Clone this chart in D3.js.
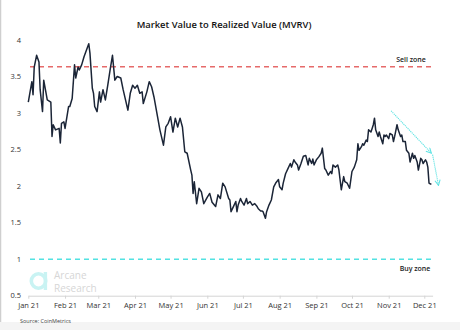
<!DOCTYPE html>
<html>
<head>
<meta charset="utf-8">
<script src="https://cdn.jsdelivr.net/npm/d3@7"></script>
<style>
  body { margin: 0; background: #fff; }
  svg { display: block; font-family: "Open Sans", "Noto Sans", sans-serif; }
</style>
</head>
<body>
<div id="chart"></div>
<script>
var startDate = new Date(2021, 0, 1);

// day of year (from Jan 1 2021) and MVRV value
var days = [0,3,4,5,7,9,10,12,13,16,19,20,21,23,26,27,28,30,31,34,35,37,39,40,42,43,45,47,49,51,52,54,55,56,58,60,61,63,65,67,69,71,73,75,78,80,82,84,86,88,90,92,94,96,97,100,102,104,106,109,111,114,116,118,120,122,124,126,128,130,132,134,137,138,139,140,142,144,146,148,151,153,155,158,160,162,164,166,169,170,171,173,175,176,177,179,180,182,184,185,187,189,191,193,194,196,197,198,200,201,203,205,207,209,211,212,214,215,217,219,221,222,224,225,227,228,230,232,234,236,237,239,240,241,243,245,247,248,250,251,253,255,256,257,259,261,262,264,266,267,269,271,273,275,277,278,279,281,282,283,285,286,287,289,290,291,292,293,295,296,297,299,300,301,302,304,305,307,308,309,311,312,314,315,316,318,319,321,322,324,325,326,328,329,331,332,333,335,336,337,338,339,340];
var mvrv = [3.15,3.43,3.25,3.63,3.79,3.70,3.32,3.02,3.45,3.18,3.15,2.68,2.84,2.77,2.79,2.59,2.86,2.88,2.79,3.09,3.09,3.20,3.66,3.48,3.63,3.59,3.66,3.77,3.86,3.95,3.82,3.34,3.27,3.09,3.02,3.29,3.15,3.32,3.18,3.38,3.59,3.79,3.45,3.50,3.48,3.32,3.18,3.04,3.27,3.38,3.34,3.38,3.27,3.29,3.13,3.29,3.43,3.36,3.22,2.95,2.77,2.56,2.81,2.86,2.95,2.74,2.93,2.81,2.93,2.81,2.47,2.45,2.22,2.15,1.90,2.06,1.76,1.97,1.92,1.76,1.85,1.90,1.78,1.72,1.88,1.83,2.04,1.99,1.83,1.81,1.65,1.72,1.79,1.65,1.74,1.83,1.79,1.74,1.83,1.76,1.79,1.74,1.76,1.72,1.69,1.66,1.66,1.65,1.56,1.65,1.74,1.81,1.99,2.05,2.09,1.99,1.95,2.04,2.17,2.24,2.31,2.26,2.36,2.33,2.29,2.22,2.31,2.41,2.42,2.29,2.38,2.31,2.37,2.29,2.36,2.40,2.45,2.52,2.24,2.22,2.15,2.20,2.17,2.29,2.26,2.29,2.22,1.95,2.13,2.06,2.04,1.97,2.20,2.26,2.36,2.58,2.49,2.54,2.58,2.56,2.63,2.61,2.77,2.74,2.79,2.84,2.93,2.77,2.68,2.74,2.68,2.58,2.70,2.68,2.70,2.65,2.72,2.70,2.61,2.68,2.84,2.77,2.68,2.70,2.61,2.61,2.49,2.45,2.33,2.45,2.38,2.42,2.33,2.22,2.38,2.36,2.31,2.36,2.33,2.26,2.04,2.03,2.03];

var yTicks = [0.5, 1, 1.5, 2, 2.5, 3, 3.5, 4];
var sellZone = 3.635;
var buyZone = 1;
var lastDay = 341;

// trend arrows: [startDay, startValue, endDay, endValue]
var arrows = [[306, 3.03, 340, 2.45], [341, 2.43, 346, 2.01]];

var width = 460, height = 330;

var svg = d3.select("#chart").append("svg")
  .attr("width", width)
  .attr("height", height);

// page frame bits
svg.append("rect").attr("x", 0).attr("y", 322).attr("width", width).attr("height", 8).attr("fill", "#f4f4f4");
svg.append("line").attr("x1", 0.5).attr("x2", 0.5).attr("y1", 0).attr("y2", 322)
  .attr("stroke", "#cfcfcf").attr("stroke-width", 1.5);

var x = d3.scaleTime()
  .domain([startDate, d3.timeDay.offset(startDate, lastDay)])
  .range([28.3, 28.3 + lastDay * 1.1856]);

var y = d3.scaleLinear()
  .domain([0.5, 4])
  .range([295.7, 40]);

var data = days.map(function(d, i) {
  return {date: d3.timeDay.offset(startDate, d), value: mvrv[i]};
});

svg.append("text")
  .attr("x", 224)
  .attr("y", 27.5)
  .attr("text-anchor", "middle")
  .style("font-size", "9.4px")
  .style("font-weight", "600")
  .attr("fill", "#111")
  .text("Market Value to Realized Value (MVRV)");

// logo watermark
var logo = svg.append("g").attr("transform", "translate(38.5,281)");
logo.append("circle").attr("r", 7.2).attr("fill", "none").attr("stroke", "#c9f3f3").attr("stroke-width", 3.6);
logo.append("rect").attr("x", 5.2).attr("y", -9).attr("width", 3.4).attr("height", 18).attr("fill", "#c9f3f3");
svg.append("text").attr("x", 54).attr("y", 279).attr("fill", "#d6d6d6")
  .style("font-size", "10px").text("Arcane");
svg.append("text").attr("x", 54).attr("y", 292).attr("fill", "#d6d6d6")
  .style("font-size", "10px").text("Research");

// y labels
svg.append("g").selectAll("text")
  .data(yTicks)
  .enter().append("text")
  .attr("x", 21)
  .attr("y", function(d) { return y(d); })
  .attr("dy", "0.35em")
  .attr("text-anchor", "end")
  .attr("fill", "#333")
  .style("font-size", "7.5px")
  .text(function(d) { return d; });

// x axis
var xAxis = d3.axisBottom(x)
  .ticks(d3.timeMonth.every(1))
  .tickFormat(d3.timeFormat("%b %y"))
  .tickSize(3)
  .tickSizeOuter(0);

var gx = svg.append("g")
  .attr("transform", "translate(0," + y(0.5) + ")")
  .call(xAxis);
gx.select(".domain").attr("stroke", "#d4d4d4");
gx.selectAll(".tick line").attr("stroke", "#d4d4d4");
gx.selectAll(".tick text")
  .attr("fill", "#333")
  .attr("y", 7)
  .style("font-size", "7.5px")
  .style("font-family", "\"Open Sans\", sans-serif");

// zone lines
svg.append("line")
  .attr("x1", 30).attr("x2", 431)
  .attr("y1", y(sellZone)).attr("y2", y(sellZone))
  .attr("stroke", "#e66a6a")
  .attr("stroke-width", 1.5)
  .attr("stroke-dasharray", "5,4");

svg.append("line")
  .attr("x1", 30).attr("x2", 432)
  .attr("y1", y(buyZone)).attr("y2", y(buyZone))
  .attr("stroke", "#52e2e2")
  .attr("stroke-width", 1.5)
  .attr("stroke-dasharray", "5,4");

svg.append("text").attr("x", 411).attr("y", y(sellZone) - 5)
  .attr("text-anchor", "middle").attr("fill", "#222")
  .style("font-size", "7px").style("font-weight", "600")
  .text("Sell zone");
svg.append("text").attr("x", 415).attr("y", y(buyZone) + 12)
  .attr("text-anchor", "middle").attr("fill", "#222")
  .style("font-size", "7px").style("font-weight", "600")
  .text("Buy zone");

// the MVRV line
var line = d3.line()
  .x(function(d) { return x(d.date); })
  .y(function(d) { return y(d.value); });

svg.append("path")
  .datum(data)
  .attr("fill", "none")
  .attr("stroke", "#1b2537")
  .attr("stroke-width", 1.5)
  .attr("stroke-linejoin", "round")
  .attr("d", line);

// arrows
svg.append("defs").append("marker")
  .attr("id", "head")
  .attr("viewBox", "0 0 10 10")
  .attr("refX", 9).attr("refY", 5)
  .attr("markerWidth", 6).attr("markerHeight", 6)
  .attr("orient", "auto")
  .append("path")
  .attr("d", "M1,1 L9,5 L1,9")
  .attr("fill", "none")
  .attr("stroke", "#5fe3e3")
  .attr("stroke-width", 1.6);

arrows.forEach(function(a) {
  svg.append("line")
    .attr("x1", x(d3.timeDay.offset(startDate, a[0]))).attr("y1", y(a[1]))
    .attr("x2", x(d3.timeDay.offset(startDate, a[2]))).attr("y2", y(a[3]))
    .attr("stroke", "#5fe3e3")
    .attr("stroke-width", 1.1)
    .attr("stroke-dasharray", "1.2,0.8")
    .attr("marker-end", "url(#head)");
});

svg.append("text").attr("x", 20).attr("y", 322.5)
  .attr("fill", "#444").style("font-size", "5.5px")
  .text("Source: CoinMetrics");
</script>
</body>
</html>
